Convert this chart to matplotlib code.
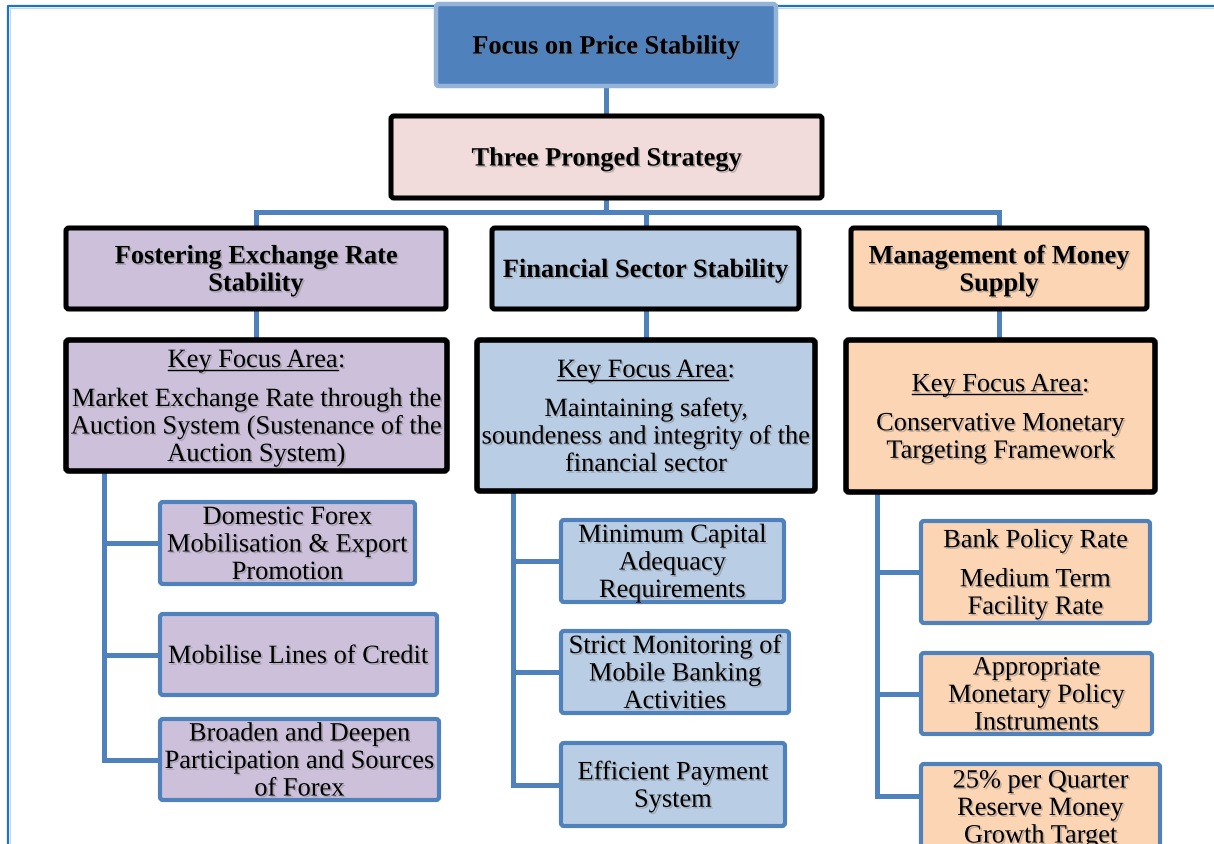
import matplotlib
matplotlib.use('Agg')
import matplotlib.pyplot as plt
from matplotlib.patches import FancyBboxPatch
import matplotlib.patheffects as pe

W, H = 1214, 845

# chart text
top_title = 'Focus on Price Stability'
strategy_title = 'Three Pronged Strategy'
pillar_titles = ['Fostering Exchange Rate\nStability',
                 'Financial Sector Stability',
                 'Management of Money\nSupply']
focus_heading = 'Key Focus Area'
focus_texts = ['Market Exchange Rate through the\nAuction System (Sustenance of the\nAuction System)',
               'Maintaining safety,\nsoundeness and integrity of the\nfinancial sector',
               'Conservative Monetary\nTargeting Framework']
actions_fx = ['Domestic Forex\nMobilisation & Export\nPromotion',
              'Mobilise Lines of Credit',
              'Broaden and Deepen\nParticipation and Sources\nof Forex']
actions_fin = ['Minimum Capital\nAdequacy\nRequirements',
               'Strict Monitoring of\nMobile Banking\nActivities',
               'Efficient Payment\nSystem']
actions_money = ['Bank Policy Rate\n\nMedium Term\nFacility Rate',
                 'Appropriate\nMonetary Policy\nInstruments',
                 '25% per Quarter\nReserve Money\nGrowth Target']
actions = [actions_fx, actions_fin, actions_money]
pillar_fills = ['#ccc0da', '#b9cde5', '#fcd5b5']

# layout in pixels (y down)
top_box = (436, 776, 5, 87)
strategy_box = (391, 822, 117, 199)
pillar_boxes = [(66, 446, 229, 310), (492, 799, 229, 310), (851, 1147, 229, 310)]
focus_boxes = [(66, 447, 341, 472), (477, 815, 341, 492), (846, 1155, 341, 493)]
spine_x = [104, 513, 877]
leaf_boxes = [[(160, 415, 503, 585), (160, 437, 615, 696), (160, 439, 720, 801)],
              [(561, 784, 521, 603), (561, 789, 632, 714), (561, 785, 744, 827)],
              [(921, 1150, 522, 624), (921, 1152, 654, 735), (921, 1160, 765, 850)]]
bus_y = 213

LINK = '#4f81bd'
FS = 19
DY = 27.5
SERIF = 'Liberation Serif'
shadow = [pe.withSimplePatchShadow(offset=(1.2, -1.2), shadow_rgbFace='#777777', alpha=0.45)]

fig = plt.figure(figsize=(W / 100, H / 100), dpi=100)
ax = fig.add_axes([0, 0, 1, 1])
ax.set_xlim(0, W)
ax.set_ylim(H, 0)
ax.axis('off')
renderer = fig.canvas.get_renderer()


def box(b, fill, edge, lw):
    x0, x1, y0, y1 = b
    ax.add_patch(FancyBboxPatch((x0, y0), x1 - x0, y1 - y0,
                                boxstyle='round,pad=0,rounding_size=3',
                                fc=fill, ec=edge, lw=lw, zorder=2))


def link(xs, ys, lw=3.6):
    ax.plot(xs, ys, color=LINK, lw=lw, solid_capstyle='projecting',
            solid_joinstyle='miter', zorder=1)


def put_text(b, text, bold=False, heading=None):
    x0, x1, y0, y1 = b
    cx, cy = (x0 + x1) / 2, (y0 + y1) / 2
    lines = text.split('\n')
    if heading:
        lines = [heading + ':', ''] + lines
    ys, pos = [], 0.0
    for ln in lines:
        if ln == '':
            pos += 0.42 * DY
            continue
        ys.append(pos)
        pos += DY
    shift = cy - (ys[0] + ys[-1]) / 2
    weight = 'bold' if bold else 'normal'
    words = [ln for ln in lines if ln != '']
    for i, (ln, y) in enumerate(zip(words, ys)):
        yb = y + shift + 8.5
        if heading and i == 0:
            full = ax.text(0, 0, ln, fontsize=FS, family=SERIF)
            wf = full.get_window_extent(renderer).width
            full.remove()
            part = ax.text(cx - wf / 2, yb, heading, fontsize=FS, family=SERIF,
                           ha='left', va='baseline', zorder=3, path_effects=shadow)
            wk = part.get_window_extent(renderer).width
            ax.text(cx - wf / 2 + wk, yb, ':', fontsize=FS, family=SERIF,
                    ha='left', va='baseline', zorder=3, path_effects=shadow)
            ax.plot([cx - wf / 2, cx - wf / 2 + wk], [yb + 3, yb + 3],
                    color='black', lw=1.0, zorder=3)
        else:
            ax.text(cx, yb, ln, fontsize=FS, family=SERIF, fontweight=weight,
                    ha='center', va='baseline', zorder=3, path_effects=shadow)


# page frame
ax.plot([8, 8, W], [H, 7, 7], color='#1a75c4', lw=1.6, zorder=0)
ax.plot([10, 10, W], [H, 9, 9], color='#bcd7ef', lw=0.7, zorder=0)

# connectors at the top
link([606, 606], [87, 117])
link([606, 606], [199, bus_y])
pill_cx = [(b[0] + b[1]) / 2 for b in pillar_boxes]
link([pill_cx[0], pill_cx[0], pill_cx[2], pill_cx[2]], [229, bus_y, bus_y, 229])
link([pill_cx[1], pill_cx[1]], [bus_y, 229])
for cx in pill_cx:
    link([cx, cx], [310, 341])

# brackets to the actions
for k in range(3):
    fb = focus_boxes[k]
    sx = spine_x[k]
    branch_y = [(lb[2] + min(lb[3], 828)) / 2 for lb in leaf_boxes[k]]
    branch_y[2] = min(branch_y[2], 806)
    link([sx, sx], [fb[3], branch_y[-1]])
    for by, lb in zip(branch_y, leaf_boxes[k]):
        link([sx, lb[0]], [by, by])

# boxes
box(top_box, '#4f81bd', '#95b3d7', 3.2)
put_text(top_box, top_title, bold=True)
box(strategy_box, '#f2dcdb', 'black', 3.6)
put_text(strategy_box, strategy_title, bold=True)

for k in range(3):
    box(pillar_boxes[k], pillar_fills[k], 'black', 3.6)
    put_text(pillar_boxes[k], pillar_titles[k], bold=True)
    box(focus_boxes[k], pillar_fills[k], 'black', 4.0)
    put_text(focus_boxes[k], focus_texts[k], heading=focus_heading)
    for lb, txt in zip(leaf_boxes[k], actions[k]):
        box(lb, pillar_fills[k], LINK, 3.0)
        put_text(lb, txt)

fig.savefig('out.png', dpi=100)
